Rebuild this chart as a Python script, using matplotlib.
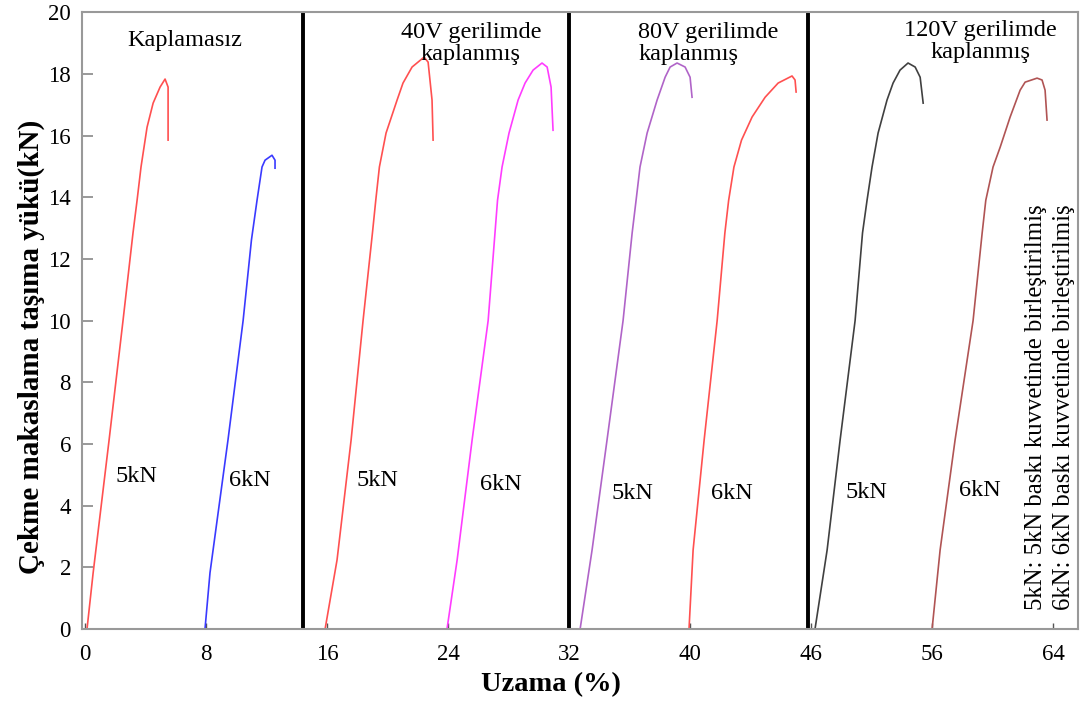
import matplotlib
matplotlib.use("Agg")
import matplotlib.pyplot as plt

plt.rcParams['font.family'] = ['Liberation Serif', 'DejaVu Serif']

# tick positions and their labels as printed (the 48 position is labelled 46)
x_ticks = [0, 8, 16, 24, 32, 40, 48, 56, 64]
x_tick_labels = ['0', '8', '16', '24', '32', '40', '46', '56', '64']
y_ticks = [0, 2, 4, 6, 8, 10, 12, 14, 16, 18, 20]

# panel separators
separators = [14.4, 32, 47.8]

# Kaplamasiz
unc_5_x = [0.13, 0.53, 1.59, 2.51, 3.17, 3.44, 3.70, 4.10, 4.50, 4.96, 5.29, 5.49, 5.49]
unc_5_y = [0, 1.8, 6.13, 10.0, 12.84, 13.9, 14.98, 16.27, 17.05, 17.57, 17.83, 17.57, 15.85]
unc_6_x = [7.93, 8.26, 9.45, 10.45, 11.0, 11.37, 11.70, 11.90, 12.36, 12.56, 12.56]
unc_6_y = [0, 1.82, 6.13, 10.0, 12.61, 13.9, 14.98, 15.2, 15.36, 15.2, 14.94]

# 40V
v40_5_x = [15.87, 16.66, 17.59, 18.38, 19.0, 19.22, 19.46, 19.90, 20.63, 21.02, 21.62, 22.41, 22.68, 22.94, 23.01]
v40_5_y = [0, 2.24, 6.13, 10.0, 12.84, 13.9, 14.98, 16.08, 17.15, 17.7, 18.22, 18.54, 18.38, 17.15, 15.85]
v40_6_x = [23.93, 24.6, 25.59, 26.65, 27.27, 27.57, 28.03, 28.63, 29.09, 29.62, 30.21, 30.55, 30.81, 30.94]
v40_6_y = [0, 2.24, 6.13, 10.0, 13.9, 14.98, 16.08, 17.15, 17.7, 18.12, 18.35, 18.22, 17.57, 16.17]

# 80V
v80_5_x = [32.73, 33.52, 34.51, 35.57, 36.17, 36.43, 36.69, 37.16, 37.82, 38.35, 38.68, 39.14, 39.67, 40.0, 40.13]
v80_5_y = [0, 2.56, 6.13, 10.0, 12.84, 13.9, 14.98, 16.08, 17.15, 17.89, 18.22, 18.35, 18.22, 17.89, 17.24]
v80_6_x = [39.93, 40.2, 40.93, 41.79, 42.3, 42.55, 42.9, 43.4, 44.1, 44.96, 45.82, 46.74, 46.94, 47.01]
v80_6_y = [0, 2.56, 6.13, 10.0, 12.84, 13.9, 14.98, 15.85, 16.6, 17.24, 17.7, 17.93, 17.8, 17.41]

# 120V
v120_5_x = [48.26, 49.06, 49.92, 50.91, 51.4, 51.7, 52.03, 52.43, 53.02, 53.42, 53.88, 54.41, 54.88, 55.21, 55.41]
v120_5_y = [0, 2.56, 6.13, 10.0, 12.84, 13.9, 14.98, 16.08, 17.15, 17.7, 18.12, 18.35, 18.22, 17.89, 17.05]
v120_6_x = [56.0, 56.53, 57.52, 58.71, 59.31, 59.55, 60.03, 60.5, 61.16, 61.82, 62.15, 62.94, 63.27, 63.47, 63.6]
v120_6_y = [0, 2.56, 6.13, 10.0, 12.84, 13.9, 14.98, 15.62, 16.6, 17.47, 17.73, 17.86, 17.8, 17.47, 16.5]

fig = plt.figure(figsize=(10.85, 7.01), dpi=100)
ax = fig.add_axes([0.0756, 0.1027, 0.918, 0.880])

ax.plot(unc_5_x, unc_5_y, color='#ff5050', lw=1.2)
ax.plot(unc_6_x, unc_6_y, color='#3a3aff', lw=1.2)
ax.plot(v40_5_x, v40_5_y, color='#ff5050', lw=1.2)
ax.plot(v40_6_x, v40_6_y, color='#ff3cff', lw=1.2)
ax.plot(v80_5_x, v80_5_y, color='#b064c8', lw=1.2)
ax.plot(v80_6_x, v80_6_y, color='#ff5050', lw=1.2)
ax.plot(v120_5_x, v120_5_y, color='#404040', lw=1.2)
ax.plot(v120_6_x, v120_6_y, color='#b05454', lw=1.2)

for s in separators:
    ax.axvline(s, color='black', lw=2.8)

ax.set_xlim(-0.2, 65.65)
ax.set_ylim(0, 20)
ax.set_xticks(x_ticks)
ax.set_xticklabels(x_tick_labels)
ax.set_yticks(y_ticks)
ax.tick_params(axis='y', direction='in', length=8, width=1.2, color='#888888', pad=8, labelsize=16.5)
ax.tick_params(axis='x', direction='in', length=4, width=1, color='#555555', pad=11, labelsize=16.5)
for sp in ax.spines.values():
    sp.set_color('#999999')
    sp.set_linewidth(1.5)

ax.set_xlabel('Uzama (%)', fontsize=20.5, fontweight='bold')
ax.xaxis.set_label_coords(0.471, -0.07)
ax.set_ylabel('Çekme makaslama taşıma yükü(kN)', fontsize=21, fontweight='bold')
ax.yaxis.set_label_coords(-0.037, 0.457)

fs = 17.5
ax.text(6.61, 19.09, 'Kaplamasız', fontsize=fs, ha='center', va='center')
ax.text(25.5, 18.97, '40V gerilimde\nkaplanmış', fontsize=fs, ha='center', va='center', linespacing=1.05)
ax.text(36.56, 18.97, '80V gerilimde\nkaplanmış', fontsize=fs, ha='left', va='center', linespacing=1.05)
ax.text(59.2, 19.06, '120V gerilimde\nkaplanmış', fontsize=fs, ha='center', va='center', linespacing=1.05)

ax.text(3.37, 4.93, '5kN', fontsize=fs, ha='center', va='center')
ax.text(10.91, 4.83, '6kN', fontsize=fs, ha='center', va='center')
ax.text(19.31, 4.83, '5kN', fontsize=fs, ha='center', va='center')
ax.text(27.5, 4.67, '6kN', fontsize=fs, ha='center', va='center')
ax.text(36.17, 4.38, '5kN', fontsize=fs, ha='center', va='center')
ax.text(42.78, 4.38, '6kN', fontsize=fs, ha='center', va='center')
ax.text(51.64, 4.44, '5kN', fontsize=fs, ha='center', va='center')
ax.text(59.17, 4.5, '6kN', fontsize=fs, ha='center', va='center')

ax.text(62.9, 0.62, '5kN: 5kN baskı kuvvetinde birleştirilmiş', fontsize=17.8, rotation=90,
        ha='center', va='bottom')
ax.text(64.75, 0.62, '6kN: 6kN baskı kuvvetinde birleştirilmiş', fontsize=17.8, rotation=90,
        ha='center', va='bottom')

fig.savefig('out.png', dpi=100)
